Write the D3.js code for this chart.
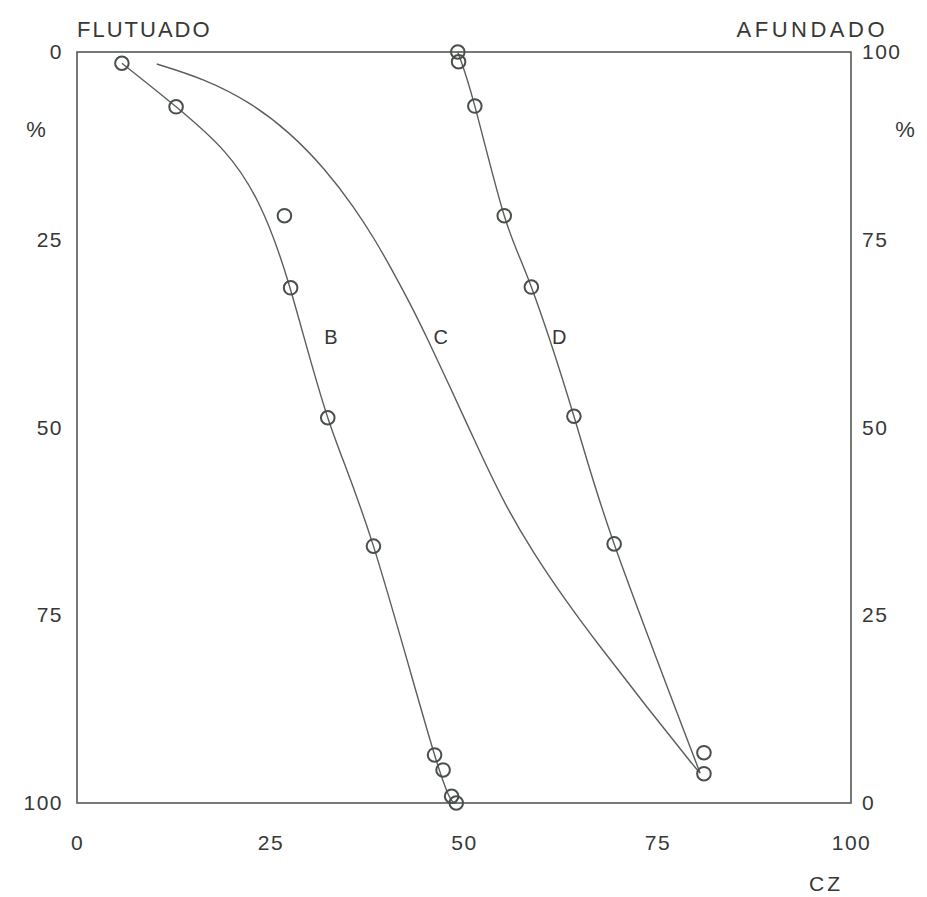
<!DOCTYPE html>
<html>
<head>
<meta charset="utf-8">
<script src="https://cdn.jsdelivr.net/npm/d3@7"></script>
<style>
  html, body { margin: 0; padding: 0; background: #fff; }
  svg { display: block; }
  text { font-family: "Liberation Sans", Arial, sans-serif; fill: #363836; }
</style>
</head>
<body>
<svg id="chart" width="927" height="897"></svg>
<script>
// Tick values shared by all four axes
const ticks = [0, 25, 50, 75, 100];

// Curve B: measured points and the fitted line through them
const bPointsX = [5.8, 12.8, 26.8, 27.6, 32.4, 38.3, 46.2, 47.3, 48.4, 49.0];
const bPointsY = [1.5, 7.3, 21.8, 31.4, 48.7, 65.8, 93.6, 95.6, 99.1, 100];
const bLineX = [5.8, 12.8, 19.0, 23.4, 27.4, 32.4, 38.3, 46.2, 49.0];
const bLineY = [1.5, 7.3, 13.2, 20.0, 31.0, 48.7, 65.8, 93.6, 100];

// Curve C: fitted line only
const cLineX = [10.3, 16.5, 22.4, 27.5, 32.0, 35.9, 38.5, 40.7, 43.0, 45.2, 47.8, 52.1, 55.3, 58.9, 63.1, 67.2, 73.6, 80.1, 80.5];
const cLineY = [1.6, 3.6, 6.7, 10.7, 15.5, 20.8, 25.0, 29.0, 33.4, 38.0, 43.7, 53.4, 60.3, 66.6, 73.0, 78.7, 87.2, 95.6, 96.0];

// Curve D: measured points and the fitted line through them
const dPointsX = [49.2, 49.3, 51.4, 55.2, 58.7, 64.2, 69.4, 81.0, 81.0];
const dPointsY = [0.0, 1.3, 7.2, 21.8, 31.3, 48.5, 65.5, 93.3, 96.1];
const dLineX = [49.2, 51.4, 55.2, 58.7, 64.2, 69.4, 80.5];
const dLineY = [0.0, 7.2, 21.8, 31.3, 48.5, 65.5, 96.0];

// Curve labels
const curveNames = ["B", "C", "D"];
const curveLabelX = [32.8, 47.0, 62.3];
const curveLabelY = [38.0, 38.0, 38.0];

const svg = d3.select("#chart");
const plotLeft = 77, plotTop = 52, plotRight = 851, plotBottom = 803;

const x = d3.scaleLinear().domain([0, 100]).range([plotLeft, plotRight]);
const yL = d3.scaleLinear().domain([0, 100]).range([plotTop, plotBottom]);   // floated %
const yR = d3.scaleLinear().domain([0, 100]).range([plotBottom, plotTop]);   // sunk %

const ink = "#4a4f4b";

// Axes (labels only; frame drawn separately)
function styleAxis(g) {
  g.select(".domain").remove();
  g.selectAll("text").style("font-size", "21px").attr("fill", "#363836")
    .style("letter-spacing", "1.5px");
}
svg.append("g").attr("transform", `translate(${plotLeft},0)`)
  .call(d3.axisLeft(yL).tickValues(ticks).tickSize(0).tickPadding(14))
  .call(styleAxis);
svg.append("g").attr("transform", `translate(${plotRight},0)`)
  .call(d3.axisRight(yR).tickValues(ticks).tickSize(0).tickPadding(11))
  .call(styleAxis);
svg.append("g").attr("transform", `translate(0,${plotBottom})`)
  .call(d3.axisBottom(x).tickValues(ticks).tickSize(0).tickPadding(32))
  .call(styleAxis);

// Plot frame
svg.append("rect")
  .attr("x", plotLeft).attr("y", plotTop)
  .attr("width", plotRight - plotLeft).attr("height", plotBottom - plotTop)
  .attr("fill", "none").attr("stroke", "#555a56").attr("stroke-width", 1.6);

// Titles and units
svg.append("text").attr("x", 77).attr("y", 37).text("FLUTUADO")
  .style("font-size", "22px").style("letter-spacing", "2px");
svg.append("text").attr("x", 888).attr("y", 37).attr("text-anchor", "end").text("AFUNDADO")
  .style("font-size", "22px").style("letter-spacing", "3.5px");
svg.append("text").attr("x", 36).attr("y", 137).attr("text-anchor", "middle").text("%")
  .style("font-size", "22px");
svg.append("text").attr("x", 905).attr("y", 137).attr("text-anchor", "middle").text("%")
  .style("font-size", "22px");
svg.append("text").attr("x", 826).attr("y", 891).attr("text-anchor", "middle").text("CZ")
  .style("font-size", "21px").style("letter-spacing", "3px");

// Lines: B and D are splines through their fitted points, C is a smoothed B-spline
const px = d => x(d[0]), py = d => yL(d[1]);
const natural = d3.line().x(px).y(py).curve(d3.curveNatural);
const basis = d3.line().x(px).y(py).curve(d3.curveBasis);

const g = svg.append("g").attr("fill", "none").attr("stroke", "#5a5f5b").attr("stroke-width", 1.4);
g.append("path").attr("d", natural(d3.zip(bLineX, bLineY)));
g.append("path").attr("d", basis(d3.zip(cLineX, cLineY)));
g.append("path").attr("d", natural(d3.zip(dLineX, dLineY)));

// Measured points
const pts = d3.zip(bPointsX, bPointsY).concat(d3.zip(dPointsX, dPointsY));
svg.append("g").selectAll("circle").data(pts).join("circle")
  .attr("cx", px).attr("cy", py).attr("r", 6.8)
  .attr("fill", "none").attr("stroke", ink).attr("stroke-width", 2);

// Curve names
svg.append("g").selectAll("text.name").data(curveNames).join("text")
  .attr("class", "name")
  .attr("x", (d, i) => x(curveLabelX[i])).attr("y", (d, i) => yL(curveLabelY[i]))
  .attr("text-anchor", "middle").attr("dy", "0.35em")
  .style("font-size", "20px")
  .text(d => d);
</script>
</body>
</html>
